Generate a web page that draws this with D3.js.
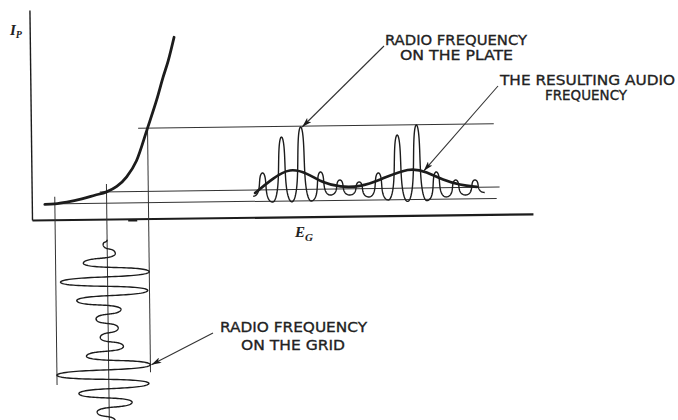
<!DOCTYPE html>
<html><head><meta charset="utf-8">
<script src="https://cdn.jsdelivr.net/npm/d3@7"></script>
<style>body{margin:0;background:#fff}svg{display:block}</style>
</head><body>
<script>
// ---------------- data (arbitrary units) ----------------
// tube characteristic: grid voltage E_G vs plate current I_P
const curveEg = [1.3, 2.3, 3.5, 5.0, 6.3, 7.47, 8.5, 9.5, 10.5, 11.64, 12.6, 13.25, 13.8, 14.4];
const curveIp = [1.55, 1.59, 1.75, 2.05, 2.4, 2.72, 3.25, 4.2, 5.8, 9.05, 11.9, 14.1, 15.8, 18.1];
// operating point (bias) and projection levels
const biasEg = 7.47;
const levelIp      = [1.59, 2.72, 9.05];
const levelEgStart = [1.3, 6.8, 10.7];
const levelEgEnd   = [46.4, 46.7, 46.2];
const dropEg    = [2.3, 7.47, 11.64];
const dropTopIp = [2.3, 3.5, 9.05];
const dropEndK  = [15.05, 19.5, 13.8];
// grid RF: signed swing of E_G at each half-cycle peak (half-cycle index, downwards)
const gridK     = [-0.5, 0, 1, 2, 3, 4, 5, 6, 7, 8, 9, 10, 11, 12, 13, 14, 15, 16, 17, 18, 19];
const gridSwing = [0, -0.4, 0.8, -2.4, 4.17, -4.7, 4.0, -3.1, 1.3, -1.2, 1.0, -0.8, 1.5, -2.2, 4.17, -5.17, 4.0, -3.0, 2.3, -1.2, 0.6];
// plate RF: I_P at troughs (t = 0,1,..12 cycles) and peaks (t = 0.5,1.5,..11.5)
const plateTroughs = [2.1, 1.5, 1.5, 1.56, 2.13, 2.11, 1.89, 1.57, 1.4, 1.45, 1.8, 1.97, 2.2];
const platePeaks   = [4.42, 7.99, 8.97, 4.45, 3.62, 3.4, 4.28, 8.05, 9.03, 4.31, 3.48, 3.46];
// resulting audio frequency (average plate current)
const audioT  = [0.1, 1.04, 1.92, 2.8, 3.63, 4.5, 5.54, 6.58, 8.13, 9.02, 9.84, 10.73, 11.6];
const audioIp = [2.43, 3.91, 4.89, 4.36, 3.34, 2.92, 2.9, 3.58, 4.84, 4.32, 3.5, 2.98, 2.76];
// x-axis marker
const markEg = [9.6, 10.5];

// ---------------- layout ----------------
const W = 678, H = 420;
const tilt = -0.7, pivot = [32, 220];
const x = d3.scaleLinear().domain([0, 50]).range([32, 533]);
const y = d3.scaleLinear().domain([0, 21]).range([220, 10]);
const gridY = d3.scaleLinear().domain([0, 19]).range([245.3, 422.0]);
const plateX = d3.scaleLinear().domain([0, 12]).range([253.5, 485]);
const ink = "#1c1c1c";

const svg = d3.select("body").append("svg").attr("width", W).attr("height", H);
svg.append("rect").attr("width", W).attr("height", H).attr("fill", "#fff");

const defs = svg.append("defs");
defs.append("marker").attr("id", "ah").attr("viewBox", "0 0 10 6")
  .attr("refX", 10).attr("refY", 3).attr("markerWidth", 10).attr("markerHeight", 6)
  .attr("markerUnits", "userSpaceOnUse").attr("orient", "auto")
  .append("path").attr("d", "M0,0 L10,3 L0,6 L2.5,3 Z").attr("fill", ink);

function rot(p) {
  const a = tilt * Math.PI / 180, dx = p[0] - pivot[0], dy = p[1] - pivot[1];
  return [pivot[0] + dx * Math.cos(a) - dy * Math.sin(a), pivot[1] + dx * Math.sin(a) + dy * Math.cos(a)];
}

const g = svg.append("g").attr("transform", `rotate(${tilt},${pivot[0]},${pivot[1]})`);

// axes (no ticks)
g.append("g").attr("transform", `translate(0,${y(0)})`)
  .call(d3.axisBottom(x).tickValues([]).tickSizeOuter(0))
  .call(s => s.select(".domain").attr("stroke", ink).attr("stroke-width", 2.2));
g.append("g").attr("transform", `translate(${x(0)},0)`)
  .call(d3.axisLeft(y).tickValues([]).tickSizeOuter(0))
  .call(s => s.select(".domain").attr("stroke", ink).attr("stroke-width", 1.4));
g.append("line").attr("x1", x(markEg[0])).attr("x2", x(markEg[1]))
  .attr("y1", y(0) + 1.6).attr("y2", y(0) + 1.6).attr("stroke", ink).attr("stroke-width", 2.4);

// projection lines
levelIp.forEach((v, i) => {
  g.append("line").attr("x1", x(levelEgStart[i])).attr("x2", x(levelEgEnd[i]))
    .attr("y1", y(v)).attr("y2", y(v)).attr("stroke", "#333").attr("stroke-width", 1);
});
dropEg.forEach((v, i) => {
  g.append("line").attr("x1", x(v)).attr("x2", x(v))
    .attr("y1", y(dropTopIp[i])).attr("y2", gridY(dropEndK[i])).attr("stroke", "#333").attr("stroke-width", 1);
});

// characteristic curve
g.append("path").datum(d3.zip(curveEg, curveIp))
  .attr("d", d3.line().x(d => x(d[0])).y(d => y(d[1])).curve(d3.curveMonotoneX))
  .attr("fill", "none").attr("stroke", ink).attr("stroke-width", 2.8).attr("stroke-linecap", "round");

// helper: cosine interpolation between successive extremes
function ease(a, b, s) { return a + (b - a) * (1 - Math.cos(Math.PI * s)) / 2; }
const STEP = 0.025;

// grid RF waveform (time advances faster at the turns -> straight strokes, round ends)
const gridPts = [];
for (let i = 0; i < gridSwing.length - 1; i++) {
  for (let s = 0; s < 1; s += STEP) {
    const sw = s + 0.09 * Math.sin(2 * Math.PI * s);
    const k = gridK[i] + sw * (gridK[i + 1] - gridK[i]);
    gridPts.push([x(biasEg + ease(gridSwing[i], gridSwing[i + 1], s)), gridY(k)]);
  }
}
gridPts.push([x(biasEg + gridSwing[gridSwing.length - 1]), gridY(gridK[gridK.length - 1])]);
g.append("path").datum(gridPts).attr("d", d3.line())
  .attr("fill", "none").attr("stroke", ink).attr("stroke-width", 1.4).attr("stroke-linejoin", "round");

// plate RF waveform (steep sides, narrow tops, wide bottoms)
const plateExt = [];
platePeaks.forEach((p, i) => { plateExt.push(plateTroughs[i], p); });
plateExt.push(plateTroughs[plateTroughs.length - 1]);
const platePts = [];
for (let i = 0; i < plateExt.length - 1; i++) {
  for (let s = 0; s < 1; s += STEP) {
    const phi = Math.PI * (i + s);
    const t = (i + s) / 2;
    const dx = 1.05 * Math.sin(2 * phi) + 1.5 * Math.sin(phi);
    platePts.push([plateX(t) + dx, y(ease(plateExt[i], plateExt[i + 1], s))]);
  }
}
platePts.push([plateX(12), y(plateExt[plateExt.length - 1])]);
g.append("path").datum(platePts).attr("d", d3.line())
  .attr("fill", "none").attr("stroke", ink).attr("stroke-width", 1.4).attr("stroke-linejoin", "round");

// audio envelope
g.append("path").datum(d3.zip(audioT, audioIp))
  .attr("d", d3.line().x(d => plateX(d[0])).y(d => y(d[1])).curve(d3.curveBasis))
  .attr("fill", "none").attr("stroke", ink).attr("stroke-width", 2.7).attr("stroke-linecap", "round");

// ---------------- labels & arrows (screen space) ----------------
const font = "'DejaVu Sans Condensed','Liberation Sans Narrow',sans-serif";
function label(txt, x0, base, len) {
  svg.append("text").attr("x", x0).attr("y", base).text(txt)
    .attr("font-family", font).attr("font-size", 14.5).attr("fill", "#222")
    .attr("stroke", "#222").attr("stroke-width", 0.3)
    .attr("textLength", len).attr("lengthAdjust", "spacingAndGlyphs");
}
label("RADIO FREQUENCY", 385, 45, 142);
label("ON THE PLATE", 400, 60, 113);
label("THE RESULTING AUDIO", 500, 85, 175);
label("FREQUENCY", 545, 100, 82);
label("RADIO FREQUENCY", 220, 332, 147);
label("ON THE GRID", 241, 350, 104);

function interpAudio(t) {
  const i = d3.bisectRight(audioT, t) - 1;
  const s = (t - audioT[i]) / (audioT[i + 1] - audioT[i]);
  return audioIp[i] + s * (audioIp[i + 1] - audioIp[i]);
}
const arrows = [
  { from: [384, 46], to: rot([plateX(2.58), y(platePeaks[2])]) },
  { from: [498, 86], to: rot([plateX(8.85), y(interpAudio(8.85))]) },
  { from: [213, 333], to: rot([x(biasEg + gridSwing[14]) + 1, gridY(gridK[14])]) }
];
arrows.forEach(a => {
  svg.append("line").attr("x1", a.from[0]).attr("y1", a.from[1])
    .attr("x2", a.to[0]).attr("y2", a.to[1]).attr("stroke", "#333").attr("stroke-width", 1.1)
    .attr("marker-end", "url(#ah)");
});

// axis symbols
const serif = "'Liberation Serif','DejaVu Serif',serif";
const ip = svg.append("text").attr("x", 10).attr("y", 35).attr("font-family", serif)
  .attr("font-style", "italic").attr("font-weight", "bold").attr("font-size", 15).attr("fill", "#222");
ip.append("tspan").text("I");
ip.append("tspan").text("P").attr("font-size", 10).attr("dy", 3);
const eg = svg.append("text").attr("x", 295).attr("y", 237).attr("font-family", serif)
  .attr("font-style", "italic").attr("font-weight", "bold").attr("font-size", 15).attr("fill", "#222");
eg.append("tspan").text("E");
eg.append("tspan").text("G").attr("font-size", 11).attr("dy", 4);
</script>
</body></html>
